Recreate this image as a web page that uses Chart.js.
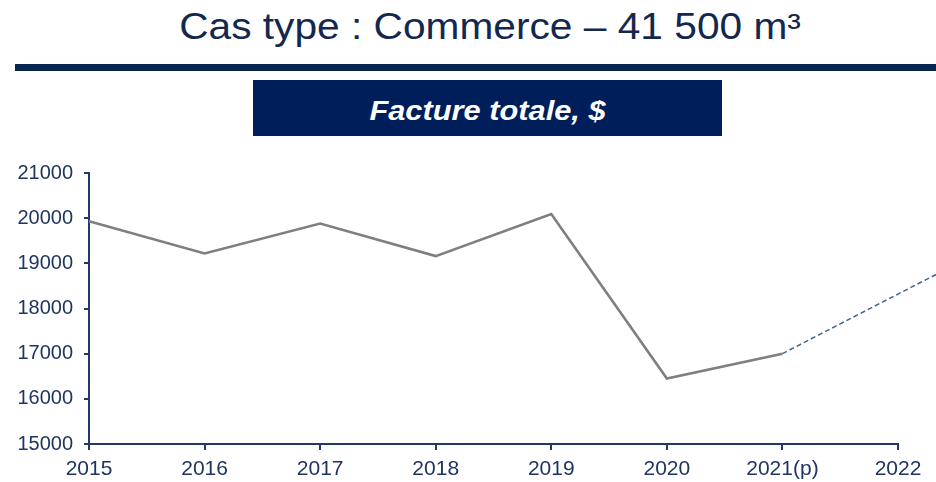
<!DOCTYPE html>
<html>
<head>
<meta charset="utf-8">
<script src="https://cdn.jsdelivr.net/npm/chart.js@4"></script>
<style>
  body { margin: 0; width: 936px; height: 482px; background: #fff; font-family: "Liberation Sans", Arial, sans-serif; position: relative; overflow: hidden; }
  #title { position: absolute; left: 0; width: 980px; top: 6px; text-align: center; font-size: 36px; color: #14284f; transform: scaleX(1.13); }
  #rule { position: absolute; left: 15px; right: 0; top: 64px; height: 7px; background: #062650; }
  #box { position: absolute; left: 253px; top: 80px; width: 469px; height: 56px; background: #001e5a; }
  #box span { position: absolute; left: 0; right: 0; top: 3px; text-align: center; line-height: 56px; color: #fff; font-weight: bold; font-style: italic; font-size: 28px; transform: scaleX(1.1); }
  #wrap { position: absolute; left: 0; top: 150px; width: 936px; height: 332px; }
</style>
</head>
<body>
<div id="title">Cas type : Commerce – 41 500 m³</div>
<div id="rule"></div>
<div id="box"><span>Facture totale, $</span></div>
<div id="wrap"><canvas id="chart"></canvas></div>
<script>
  const years = [2015, 2016, 2017, 2018, 2019, 2020, 2021];
  const facture = [19930, 19220, 19880, 19160, 20090, 16450, 17000];
  // projection (dashed), runs off the right edge
  const projYears = [2021, 2022, 2023];
  const projection = [17000, 18320, 19630];
  const xTicks = [2015, 2016, 2017, 2018, 2019, 2020, 2021, 2022];
  const yTicks = [15000, 16000, 17000, 18000, 19000, 20000, 21000];

  const navy = '#1f3a68';

  new Chart(document.getElementById('chart'), {
    type: 'line',
    data: {
      datasets: [{
        data: years.map((y, i) => ({ x: y, y: facture[i] })),
        borderColor: '#7f7f7f',
        borderWidth: 2.6,
        pointRadius: 0,
        tension: 0
      }, {
        data: projYears.map((y, i) => ({ x: y, y: projection[i] })),
        borderColor: '#3c6690',
        borderWidth: 1.5,
        borderDash: [5, 3],
        pointRadius: 0,
        clip: false
      }]
    },
    options: {
      responsive: true,
      maintainAspectRatio: false,
      animation: false,
      layout: { padding: { top: 20, right: 38, left: 0, bottom: 0 } },
      plugins: { legend: { display: false }, tooltip: { enabled: false } },
      scales: {
        x: {
          type: 'linear',
          // set the range here so the projection point past 2022 is still drawn
          afterDataLimits: axis => { axis.min = 2015; axis.max = 2022; },
          afterBuildTicks: axis => { axis.ticks = xTicks.map(v => ({ value: v })); },
          afterFit: axis => { axis.height = 38; },
          border: { color: navy, width: 2 },
          grid: { drawOnChartArea: false, color: navy, lineWidth: 2, tickLength: 6 },
          ticks: {
            color: '#1f3560',
            font: { family: 'Liberation Sans', size: 21 },
            padding: 7,
            maxRotation: 0,
            autoSkip: false,
            callback: v => v === 2021 ? '2021(p)' : String(v)
          }
        },
        y: {
          min: 15000,
          max: 21000,
          afterBuildTicks: axis => { axis.ticks = yTicks.map(v => ({ value: v })); },
          afterFit: axis => { axis.width = 89; },
          border: { color: navy, width: 2 },
          grid: { drawOnChartArea: false, color: navy, lineWidth: 2, tickLength: 5 },
          ticks: {
            color: '#1f3560',
            font: { family: 'Liberation Sans', size: 20 },
            padding: 11,
            callback: v => String(v)
          }
        }
      }
    }
  });
</script>
</body>
</html>
